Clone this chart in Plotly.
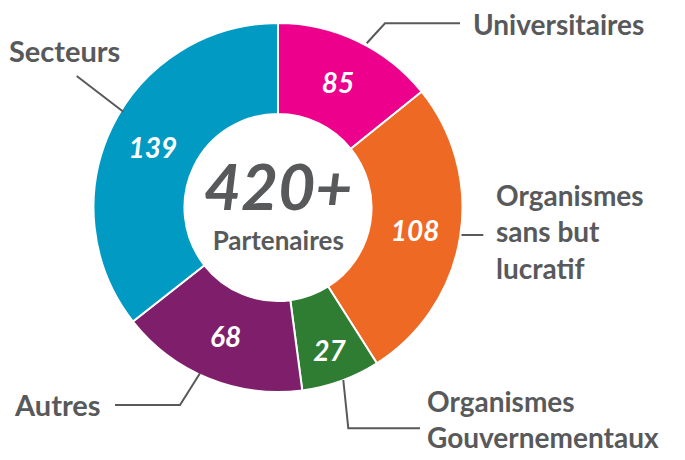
import plotly.graph_objects as go

# ---- data ----
categories = ["Universitaires", "Organismes sans but lucratif", "Organismes Gouvernementaux", "Autres", "Secteurs"]
partner_counts = [85, 108, 27, 68, 139]            # numbers printed in the ring
ring_share_pct = [14.2, 26.8, 6.9, 16.5, 35.6]      # share of the ring as drawn in the reference
slice_colors = ["#EC008C", "#EE6A24", "#2F7D32", "#7F1F6B", "#009AC3"]
center_value = "420+"
center_label = "Partenaires"

# The page body has an 8px default margin; work in page pixels and convert.
OFF = 8
W, H = 685 - OFF, 460 - OFF
GRAY = "#58595B"
FONT = "Lato"

def px(x):
    return (x - OFF) / W

def py(y):
    return 1 - (y - OFF) / H

cx, cy, R = 278, 207.5, 184.5

fig = go.Figure()
fig.add_trace(go.Pie(
    labels=categories,
    values=ring_share_pct,
    text=[str(v) for v in partner_counts],
    textinfo="text",
    textposition="inside",
    insidetextorientation="horizontal",
    textfont=dict(family=FONT, size=28, color="white", weight="bold", style="italic"),
    hole=0.507,
    sort=False,
    direction="clockwise",
    rotation=0,
    marker=dict(colors=slice_colors, line=dict(color="white", width=2)),
    domain=dict(x=[px(cx - R), px(cx + R)], y=[py(cy + R), py(cy - R)]),
    showlegend=False,
    hoverinfo="label+text",
))

annotations = []

def add_text(txt, x, y, size=29, xanchor="left"):
    annotations.append(dict(
        text=txt, x=px(x), y=py(y), xref="paper", yref="paper",
        xanchor=xanchor, yanchor="middle", align="left" if xanchor == "left" else "center",
        showarrow=False, borderpad=0,
        font=dict(family=FONT, size=size, color=GRAY, weight="bold"),
    ))

# outer category labels
add_text("Universitaires", 472, 24, size=28)
add_text("Secteurs", 8, 51)
add_text("Organismes<br>sans but<br>lucratif", 495, 231, size=28)
add_text("Organismes<br>Gouvernementaux", 426, 419, size=28)
add_text("Autres", 13, 404)

# centre text: one block (base size sets the line spacing)
add_text(f"<span style='font-size:64px'><i>{center_value}</i></span><br>"
         f"<span style='font-size:26px'>{center_label}</span>",
         cx, 201.5, size=30.5, xanchor="center")

def path(points):
    d = "M " + " L ".join(f"{px(x)},{py(y)}" for x, y in points)
    return dict(type="path", path=d, xref="paper", yref="paper",
                line=dict(color=GRAY, width=2))

shapes = [
    path([(366.7, 43.3), (385, 23.3), (460, 23.3)]),
    path([(76.7, 76), (123.3, 111.7)]),
    path([(461.5, 235), (483.3, 235)]),
    path([(343.3, 380), (348.3, 428.3), (420, 428.3)]),
    path([(200, 373.3), (180, 405), (115, 405)]),
]

fig.update_layout(
    width=W, height=H,
    margin=dict(l=0, r=0, t=0, b=0, pad=0),
    paper_bgcolor="white", plot_bgcolor="white",
    annotations=annotations,
    shapes=shapes,
)

fig.write_html("out.html")
